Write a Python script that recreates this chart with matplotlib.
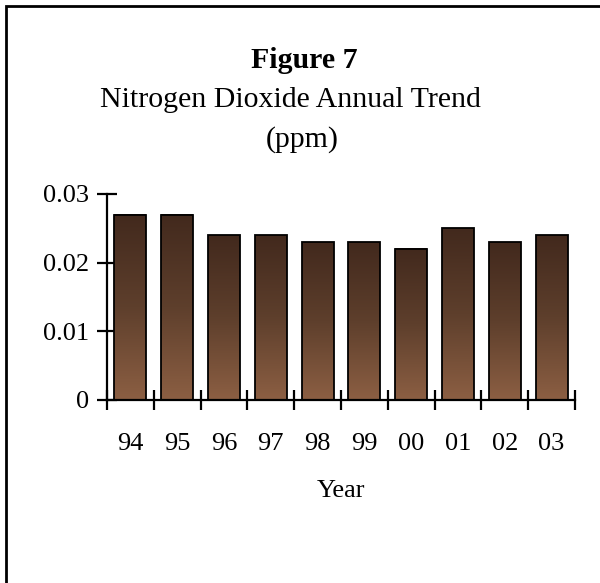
import numpy as np
import matplotlib.pyplot as plt
from matplotlib.colors import LinearSegmentedColormap
from matplotlib.patches import Rectangle

YEARS = ["94", "95", "96", "97", "98", "99", "00", "01", "02", "03"]
NO2_PPM = [0.027, 0.027, 0.024, 0.024, 0.023, 0.023, 0.022, 0.025, 0.023, 0.024]
Y_TICKS = [0, 0.01, 0.02, 0.03]
Y_TICK_LABELS = ["0", "0.01", "0.02", "0.03"]

plt.rcParams["font.family"] = ["Liberation Serif", "DejaVu Serif"]

W, H = 600, 583
fig = plt.figure(figsize=(W / 100, H / 100), dpi=100)
ax = fig.add_axes([107 / W, 1 - 400 / H, (575 - 107) / W, (400 - 194) / H])

# Excel-like brown gradient per bar: dark at top, lighter at bottom
cmap = LinearSegmentedColormap.from_list("brown", ["#8c5f43", "#5e3f2c", "#42291d"])
grad = np.linspace(0, 1, 256).reshape(-1, 1)

x = np.arange(len(YEARS))
width = 0.68
bars = ax.bar(x, NO2_PPM, width=width, facecolor="none", edgecolor="black",
              linewidth=1.3, zorder=3)
for bar in bars:
    x0, y0 = bar.get_x(), bar.get_y()
    ax.imshow(grad, extent=[x0, x0 + bar.get_width(), y0, y0 + bar.get_height()],
              origin="lower", cmap=cmap, aspect="auto", zorder=2)

ax.set_xlim(-0.5, len(YEARS) - 0.5)
ax.set_ylim(0, 0.03)

for side in ["top", "right"]:
    ax.spines[side].set_visible(False)
for side in ["left", "bottom"]:
    ax.spines[side].set_linewidth(1.6)

ax.set_yticks(Y_TICKS)
ax.set_yticklabels(Y_TICK_LABELS)
ax.tick_params(axis="y", direction="inout", length=14, width=1.6, pad=6, labelsize=19)

# category boundary ticks, labels centred under the bars
ax.set_xticks(np.arange(len(YEARS) + 1) - 0.5, minor=True)
ax.tick_params(axis="x", which="minor", direction="inout", length=14, width=1.6)
ax.set_xticks(x)
ax.set_xticklabels(YEARS)
ax.tick_params(axis="x", which="major", length=0, pad=24, labelsize=19)

fig.text(304 / W, 1 - 68 / H, "Figure 7", ha="center", va="baseline",
         fontsize=21.5, fontweight="bold")
fig.text(290 / W, 1 - 107 / H, "Nitrogen Dioxide Annual Trend", ha="center",
         va="baseline", fontsize=21.5)
fig.text(302 / W, 1 - 147 / H, "(ppm)", ha="center", va="baseline", fontsize=21.5)
fig.text(341 / W, 1 - 497 / H, "Year", ha="center", va="baseline", fontsize=19)

# outer frame (only top and left edges visible in the original crop)
fig.patches.append(Rectangle((6 / W, -0.1), 1.2, 1 - 6 / H + 0.1,
                             transform=fig.transFigure, fill=False,
                             edgecolor="black", linewidth=2))

fig.savefig("out.png", dpi=100)
